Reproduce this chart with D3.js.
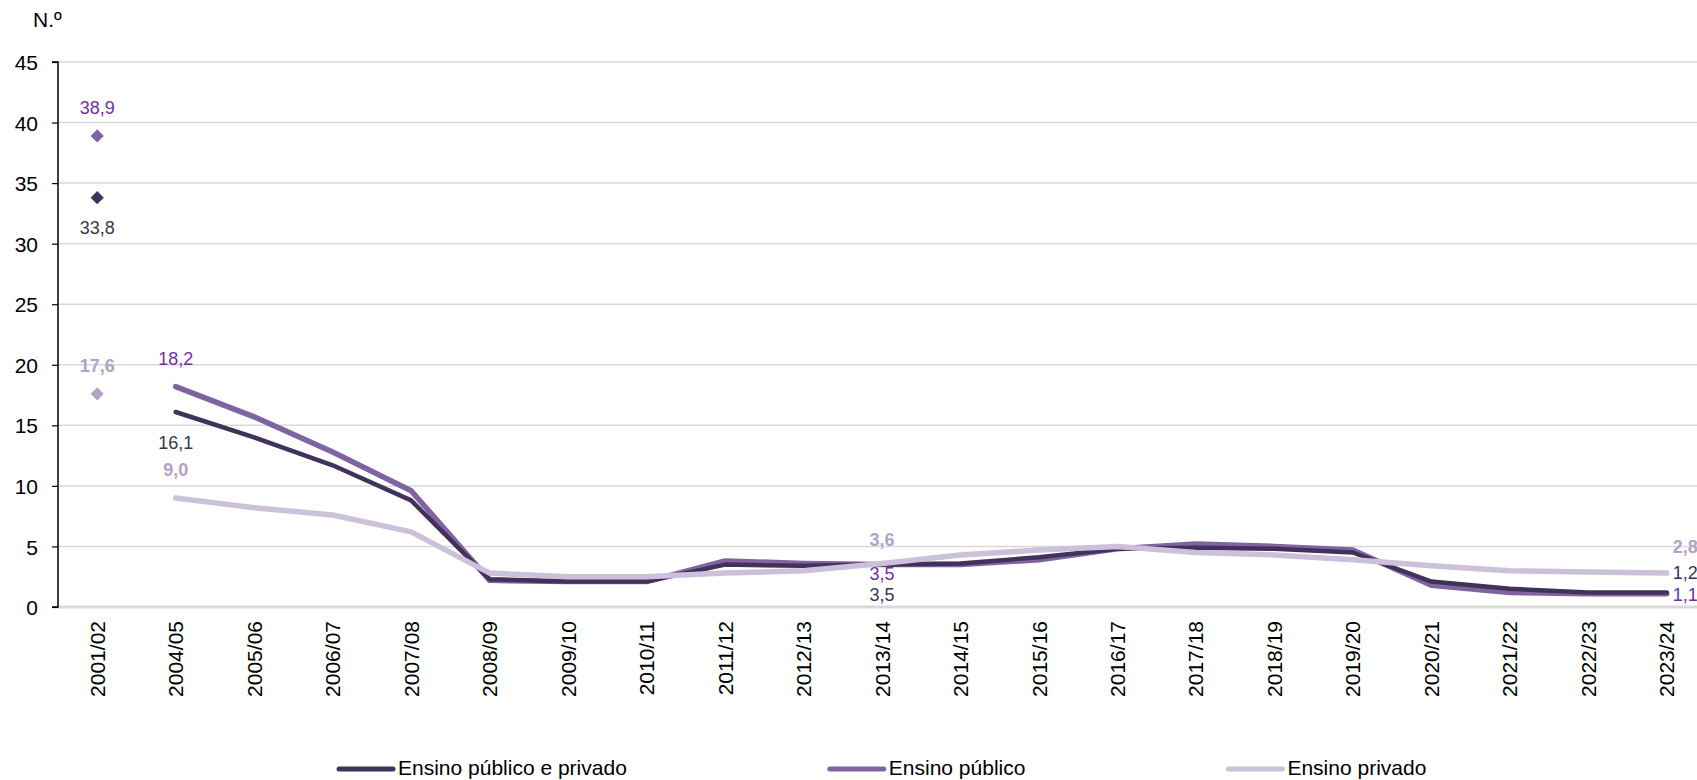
<!DOCTYPE html>
<html>
<head>
<meta charset="utf-8">
<script src="https://cdn.jsdelivr.net/npm/d3@7"></script>
<style>
  html, body { margin: 0; padding: 0; background: #fff; }
  svg { display: block; font-family: Arial, "Liberation Sans", sans-serif; }
</style>
</head>
<body>
<svg id="chart" width="1697" height="780"></svg>
<script>
// ---------------- DATA ----------------
const categories = ["2001/02","2004/05","2005/06","2006/07","2007/08","2008/09","2009/10","2010/11",
  "2011/12","2012/13","2013/14","2014/15","2015/16","2016/17","2017/18","2018/19","2019/20",
  "2020/21","2021/22","2022/23","2023/24"];
const seriesNames = ["Ensino público e privado", "Ensino público", "Ensino privado"];
const totalValues   = [33.8, 16.1, 14.0, 11.7, 8.8, 2.3, 2.1, 2.1, 3.5, 3.4, 3.5, 3.6, 4.1, 4.8, 4.9, 4.8, 4.5, 2.1, 1.5, 1.2, 1.2];
const publicValues  = [38.9, 18.2, 15.7, 12.8, 9.6, 2.2, 2.1, 2.1, 3.8, 3.6, 3.5, 3.5, 3.9, 4.8, 5.2, 5.0, 4.7, 1.8, 1.2, 1.1, 1.1];
const privateValues = [17.6, 9.0, 8.2, 7.6, 6.2, 2.8, 2.5, 2.5, 2.8, 3.0, 3.6, 4.3, 4.7, 5.0, 4.5, 4.3, 3.9, 3.4, 3.0, 2.9, 2.8];
const yTicks = [0, 5, 10, 15, 20, 25, 30, 35, 40, 45];
const yTitle = "N.º";

// ---------------- LAYOUT / STYLE ----------------
const W = 1697, H = 780;
const plotLeft = 58, plotRight = 1706, plotTop = 62, plotBottom = 607;
const fmt = v => d3.format(".1f")(v).replace(".", ",");

const styles = [
  { color: "#41325a", width: 4.5, labelColor: "#3d3650", bold: false, diamond: "#41325a" },
  { color: "#8064a2", width: 5.5, labelColor: "#7030a0", bold: false, diamond: "#8064a2" },
  { color: "#ccc0da", width: 5.5, labelColor: "#b3a2c7", bold: true,  diamond: "#b3a2c7" }
];
const values = [totalValues, publicValues, privateValues];

// label placement per series: [index, dx, dy(baseline offset), anchor]
const labelPlacement = [
  [[0, 0, 36, "middle"], [1, 0, 37, "middle"], [10, 0, 36, "middle"], [20, 6, -13.5, "start"]],
  [[0, 0, -22, "middle"], [1, 0, -22, "middle"], [10, 0, 15.5, "middle"], [20, 6, 7, "start"]],
  [[0, 0, -22, "middle"], [1, 0, -22, "middle"], [10, 0, -17, "middle"], [20, 6, -20, "start"]]
];

const svg = d3.select("#chart");

const x = d3.scaleBand().domain(categories).range([plotLeft, plotRight]).padding(0);
const xc = c => x(c) + x.bandwidth() / 2;
const y = d3.scaleLinear().domain([0, 45]).range([plotBottom, plotTop]);

// gridlines
svg.append("g").selectAll("line").data(yTicks.filter(t => t > 0)).join("line")
  .attr("x1", plotLeft).attr("x2", plotRight)
  .attr("y1", d => y(d)).attr("y2", d => y(d))
  .attr("stroke", "#d9d9d9").attr("stroke-width", 1.5);

// baseline
svg.append("line")
  .attr("x1", plotLeft).attr("x2", plotRight)
  .attr("y1", y(0)).attr("y2", y(0))
  .attr("stroke", "#d9d9d9").attr("stroke-width", 3);

// y axis
const yAxis = d3.axisLeft(y).tickValues(yTicks).tickSize(6).tickPadding(14).tickFormat(d => d);
const gy = svg.append("g").attr("transform", `translate(${plotLeft},0)`).call(yAxis);
gy.select(".domain").attr("stroke", "#000").attr("stroke-width", 1.5)
  .attr("d", `M-6,${y(45)}H0V${y(0)}H-6`);
gy.selectAll(".tick line").attr("stroke", "#000").attr("stroke-width", 1.2);
gy.selectAll(".tick text").attr("font-size", 21).attr("fill", "#000")
  .attr("font-family", "Arial, 'Liberation Sans', sans-serif").attr("dy", "0.36em");

// y title
svg.append("text").attr("x", 33).attr("y", 27).attr("font-size", 21).attr("fill", "#000").text(yTitle);

// x labels
const xAxis = d3.axisBottom(x).tickSize(0).tickPadding(0);
const gx = svg.append("g").attr("transform", `translate(0,${plotBottom})`).call(xAxis);
gx.select(".domain").remove();
gx.selectAll(".tick text")
  .attr("font-size", 21).attr("fill", "#000")
  .attr("font-family", "Arial, 'Liberation Sans', sans-serif")
  .attr("text-anchor", "end")
  .attr("transform", "translate(0,14) rotate(-90)")
  .attr("x", 0).attr("y", 0).attr("dy", "0.36em");

// lines (from 2004/05 onward), draw order: public, total, private
const line = d3.line().x(d => xc(d.c)).y(d => y(d.v));
const drawOrder = [1, 0, 2];
drawOrder.forEach(si => {
  const pts = categories.map((c, i) => ({ c, v: values[si][i] })).slice(1);
  svg.append("path").datum(pts)
    .attr("d", line).attr("fill", "none")
    .attr("stroke", styles[si].color).attr("stroke-width", styles[si].width)
    .attr("stroke-linecap", "round").attr("stroke-linejoin", "round");
});

// diamonds for 2001/02
const diamond = d3.symbol().type(d3.symbolDiamond2).size(110);
[0, 1, 2].forEach(si => {
  svg.append("path").attr("d", diamond)
    .attr("transform", `translate(${xc(categories[0])},${y(values[si][0])})`)
    .attr("fill", styles[si].diamond);
});

// data labels
labelPlacement.forEach((specs, si) => {
  specs.forEach(([i, dx, dy, anchor]) => {
    svg.append("text")
      .attr("x", xc(categories[i]) + dx)
      .attr("y", y(values[si][i]) + dy)
      .attr("text-anchor", anchor)
      .attr("font-size", 18)
      .attr("font-weight", styles[si].bold ? "bold" : "normal")
      .attr("fill", styles[si].labelColor)
      .text(fmt(values[si][i]));
  });
});

// legend
let lx = 339;
const ly = 769;
seriesNames.forEach((name, si) => {
  svg.append("line").attr("x1", lx).attr("x2", lx + 54).attr("y1", ly).attr("y2", ly)
    .attr("stroke", styles[si].color).attr("stroke-width", 5).attr("stroke-linecap", "round");
  const t = svg.append("text").attr("x", lx + 59).attr("y", ly + 5.5)
    .attr("font-size", 21).attr("fill", "#000").text(name);
  lx = lx + 59 + t.node().getComputedTextLength() + 203;
});
</script>
</body>
</html>
